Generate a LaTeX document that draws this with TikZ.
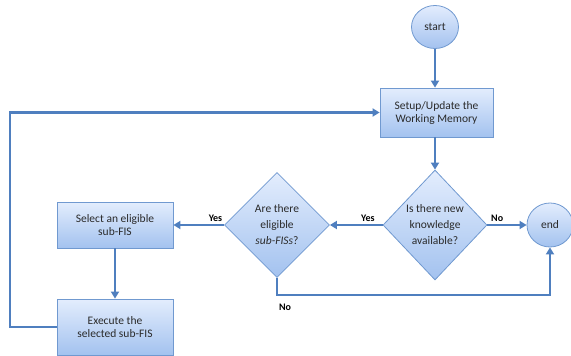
\documentclass[tikz,border=0pt]{standalone}
\usepackage{fontspec}
\setmainfont{Carlito}
\usetikzlibrary{shapes.geometric,arrows.meta}
\definecolor{flowline}{HTML}{4F7FBF}
\definecolor{boxedge}{HTML}{7099D0}
\definecolor{boxtop}{HTML}{E3EDFD}
\definecolor{boxbottom}{HTML}{A3C2EF}
\definecolor{boxtext}{HTML}{2A2A2A}
\tikzset{
  shaded/.style={draw=boxedge, line width=0.8pt, top color=boxtop, bottom color=boxbottom,
    text=boxtext, font=\fontsize{11.5}{13}\selectfont, align=center, inner sep=0pt},
  procbox/.style={shaded, rectangle},
  terminal/.style={shaded, ellipse},
  decision/.style={shaded, diamond, font=\fontsize{11.5}{16}\selectfont},
  flow/.style={draw=flowline, line width=2.5pt, -{Triangle[length=7pt,width=8pt]}},
  branch/.style={font=\fontsize{10}{11}\selectfont\bfseries, text=black, inner sep=1pt}
}
\begin{document}
\begin{tikzpicture}[x=1pt,y=-1pt]
\useasboundingbox (0,0) rectangle (571,356);

\node[terminal, minimum width=47pt, minimum height=43pt] (start) at (435,27) {start};
\node[procbox, minimum width=113pt, minimum height=49pt] (setup) at (436.5,112.5)
  {Setup/Update the\\Working Memory};
\node[decision, minimum width=104pt, minimum height=110pt] (know) at (435,225)
  {Is there new\\knowledge\\available?};
\node[decision, minimum width=105pt, minimum height=105pt] (elig) at (277,225)
  {Are there\\eligible\\\textit{sub-FISs}?};
\node[terminal, minimum width=46pt, minimum height=44pt] (endn) at (550,225) {end};
\node[procbox, minimum width=116pt, minimum height=46pt] (select) at (115,225)
  {Select an eligible\\sub-FIS};
\node[procbox, minimum width=116pt, minimum height=56pt] (exec) at (115,327)
  {Execute the\\selected sub-FIS};
\coordinate (loopx) at (10,0);
\coordinate (lowy) at (0,295);

\draw[flow] (start.south) -- (setup.north -| start.south);
\draw[flow] (setup.south -| know.north) -- (know.north);
\draw[flow] (know.west) -- node[branch, above=1pt, pos=0.28] (yes1) {Yes} (elig.east);
\draw[flow] (know.east) -- node[branch, above=1pt, pos=0.25] (no1) {No} (endn.west);
\draw[flow] (elig.west) -- node[branch, above=1pt, pos=0.17] (yes2) {Yes} (select.east);
\draw[flow] (elig.south) -- (elig.south |- lowy) -| (endn.south);
\node[branch] (no2) at (285,307) {No};
\draw[flow] (select.south) -- (exec.north);
\draw[flow] (exec.west) -- (loopx |- exec.west) |- (setup.west);
\end{tikzpicture}
\end{document}
